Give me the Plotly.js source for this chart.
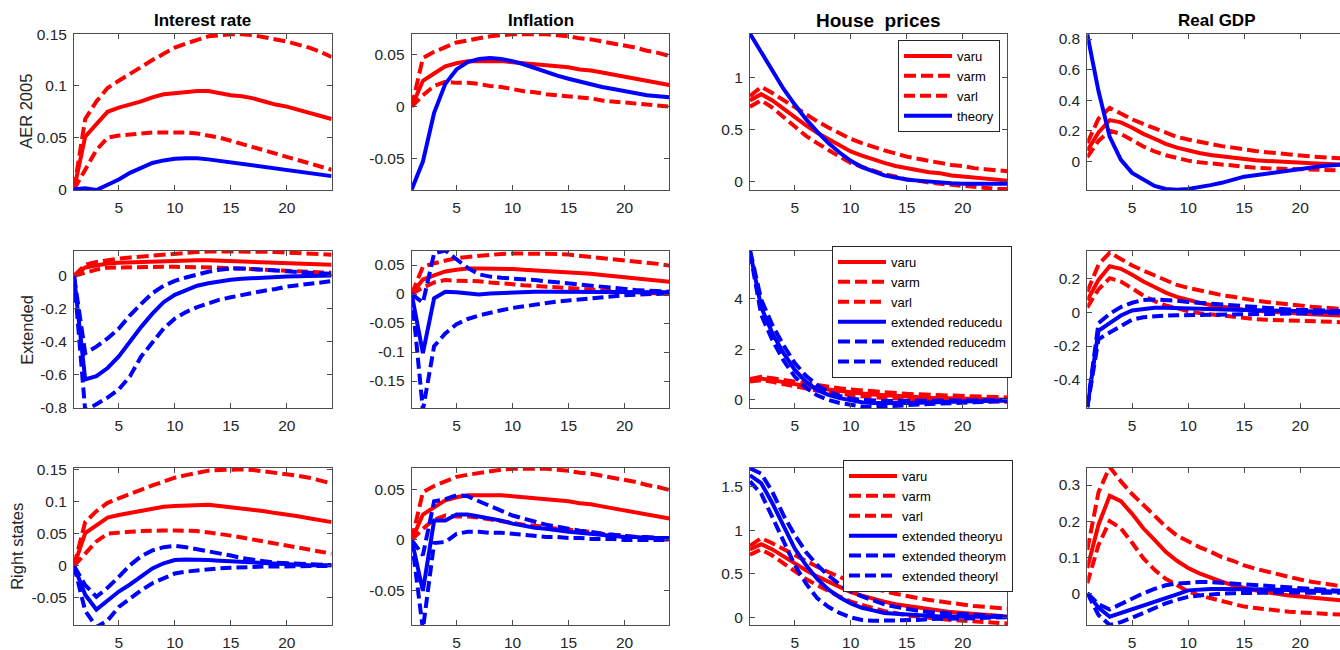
<!DOCTYPE html>
<html><head><meta charset="utf-8">
<script src="https://cdn.plot.ly/plotly-3.0.1.min.js"></script>
<style>html,body{margin:0;padding:0;overflow:hidden;background:#fff}</style>
</head><body><div id="chart" style="width:1346px;height:650px"></div>
<script>
// ---------- DATA ----------
const horizon = [1,2,3,4,5,6,7,8,9,10,11,12,13,14,15,16,17,18,19,20,21,22,23,24];
const columnTitles = ["Interest rate", "Inflation", "House\u00a0 prices", "Real GDP"];
const rowTitles = ["AER 2005", "Extended", "Right states"];
const xTickVals = [5, 10, 15, 20];
const xTickText = ["5", "10", "15", "20"];

// VAR bands (red), same in every row
const rateVarU = [0,0.051,0.063,0.075,0.079,0.082,0.085,0.089,0.092,0.093,0.094,0.095,0.095,0.093,0.091,0.090,0.088,0.085,0.082,0.080,0.077,0.074,0.071,0.068];
const rateVarM = [0,0.068,0.085,0.098,0.105,0.112,0.118,0.125,0.131,0.137,0.141,0.145,0.148,0.149,0.150,0.150,0.149,0.147,0.145,0.143,0.140,0.137,0.133,0.128];
const rateVarL = [0,0.020,0.038,0.050,0.052,0.053,0.054,0.055,0.055,0.055,0.055,0.054,0.052,0.050,0.047,0.044,0.041,0.037,0.034,0.031,0.028,0.025,0.022,0.019];
const inflVarU = [0,0.025,0.032,0.039,0.042,0.044,0.044,0.044,0.044,0.043,0.042,0.041,0.040,0.039,0.038,0.036,0.035,0.033,0.031,0.029,0.027,0.025,0.023,0.021];
const inflVarM = [0,0.047,0.053,0.058,0.062,0.064,0.066,0.068,0.069,0.070,0.070,0.070,0.070,0.069,0.068,0.066,0.065,0.063,0.061,0.059,0.057,0.054,0.052,0.049];
const inflVarL = [0,0.011,0.020,0.024,0.023,0.023,0.022,0.020,0.019,0.017,0.015,0.014,0.012,0.011,0.010,0.009,0.008,0.006,0.005,0.004,0.003,0.002,0.001,0.000];
const houseVarU = [0.78,0.84,0.78,0.70,0.61,0.54,0.47,0.41,0.35,0.29,0.25,0.21,0.18,0.15,0.13,0.11,0.09,0.08,0.06,0.05,0.04,0.03,0.02,0.01];
const houseVarM = [0.82,0.91,0.85,0.78,0.71,0.64,0.58,0.52,0.46,0.41,0.37,0.33,0.30,0.27,0.24,0.22,0.20,0.18,0.16,0.15,0.13,0.12,0.11,0.10];
const houseVarL = [0.72,0.78,0.71,0.62,0.52,0.44,0.37,0.30,0.24,0.18,0.14,0.10,0.07,0.05,0.02,0.01,-0.01,-0.02,-0.03,-0.04,-0.05,-0.06,-0.07,-0.07];
const gdpVarU = [0.07,0.19,0.27,0.255,0.22,0.18,0.148,0.115,0.09,0.07,0.055,0.042,0.032,0.022,0.014,0.008,0.003,-0.002,-0.006,-0.009,-0.012,-0.015,-0.018,-0.021];
const gdpVarM = [0.12,0.28,0.35,0.31,0.275,0.245,0.215,0.185,0.16,0.143,0.128,0.115,0.10,0.09,0.077,0.068,0.06,0.052,0.045,0.038,0.032,0.027,0.022,0.018];
const gdpVarL = [0.028,0.134,0.20,0.18,0.14,0.097,0.065,0.04,0.023,0.005,-0.006,-0.014,-0.021,-0.028,-0.037,-0.041,-0.045,-0.048,-0.051,-0.053,-0.055,-0.057,-0.059,-0.06];

// Row 1: theory (blue)
const rateTheory = [0,0.001,-0.0006,0.004,0.0095,0.016,0.021,0.0255,0.028,0.0295,0.030,0.030,0.029,0.0275,0.026,0.0245,0.023,0.0215,0.020,0.0186,0.017,0.0155,0.014,0.0128];
const inflTheory = [-0.080,-0.053,-0.006,0.022,0.036,0.043,0.046,0.047,0.046,0.044,0.041,0.037,0.034,0.030,0.027,0.024,0.021,0.019,0.017,0.015,0.013,0.011,0.010,0.009];
const houseTheory = [1.42,1.24,1.06,0.89,0.74,0.60,0.48,0.37,0.28,0.20,0.14,0.10,0.06,0.04,0.02,0.01,0.0,-0.01,-0.015,-0.02,-0.02,-0.02,-0.02,-0.02];
const gdpTheory = [0.83,0.46,0.16,0.01,-0.075,-0.12,-0.16,-0.18,-0.185,-0.18,-0.17,-0.155,-0.14,-0.12,-0.10,-0.09,-0.08,-0.07,-0.055,-0.046,-0.04,-0.03,-0.025,-0.02];

// Row 2: extended reduced (blue)
const rateRedU = [0,-0.63,-0.61,-0.56,-0.49,-0.40,-0.31,-0.23,-0.16,-0.115,-0.085,-0.06,-0.045,-0.033,-0.024,-0.018,-0.013,-0.009,-0.006,-0.004,-0.002,-0.001,0.0,0.002];
const rateRedM = [0,-0.47,-0.43,-0.38,-0.32,-0.24,-0.17,-0.105,-0.06,-0.03,-0.01,0.01,0.025,0.037,0.045,0.045,0.042,0.038,0.033,0.028,0.023,0.019,0.015,0.012];
const rateRedL = [0,-0.82,-0.78,-0.74,-0.69,-0.61,-0.49,-0.40,-0.32,-0.26,-0.22,-0.19,-0.165,-0.145,-0.13,-0.115,-0.10,-0.09,-0.08,-0.065,-0.057,-0.048,-0.04,-0.032];
const inflRedU = [0,-0.102,-0.0075,0.004,0.003,0.001,-0.001,0.001,0.002,0.003,0.004,0.004,0.004,0.004,0.004,0.004,0.004,0.004,0.004,0.003,0.003,0.003,0.003,0.003];
const inflRedM = [0,-0.015,0.070,0.075,0.060,0.045,0.034,0.030,0.028,0.027,0.026,0.024,0.022,0.020,0.018,0.016,0.014,0.012,0.010,0.008,0.007,0.006,0.005,0.004];
const inflRedL = [0,-0.20,-0.09,-0.068,-0.052,-0.043,-0.037,-0.032,-0.028,-0.024,-0.021,-0.018,-0.016,-0.013,-0.011,-0.009,-0.007,-0.005,-0.003,-0.002,-0.001,0.0,0.001,0.001];
const houseRedU = [5.85,3.65,2.62,1.84,1.18,0.72,0.39,0.20,0.07,-0.03,-0.09,-0.12,-0.13,-0.13,-0.12,-0.11,-0.09,-0.08,-0.07,-0.06,-0.05,-0.04,-0.03,-0.02];
const houseRedM = [5.9,3.95,2.95,2.15,1.45,0.95,0.58,0.33,0.16,0.05,0.0,-0.03,-0.04,-0.04,-0.04,-0.035,-0.03,-0.03,-0.025,-0.02,-0.02,-0.015,-0.01,-0.01];
const houseRedL = [5.8,3.35,2.35,1.55,0.92,0.48,0.18,0.0,-0.12,-0.21,-0.26,-0.27,-0.26,-0.24,-0.21,-0.18,-0.16,-0.14,-0.12,-0.10,-0.08,-0.06,-0.05,-0.04];
const gdpRedU = [-0.56,-0.11,-0.065,-0.02,0.01,0.02,0.025,0.025,0.024,0.022,0.02,0.018,0.016,0.014,0.012,0.01,0.008,0.007,0.006,0.005,0.004,0.003,0.002,0.001];
const gdpRedM = [-0.56,-0.065,-0.01,0.03,0.055,0.072,0.075,0.072,0.067,0.06,0.055,0.05,0.044,0.038,0.032,0.027,0.023,0.019,0.016,0.013,0.011,0.009,0.007,0.006];
const gdpRedL = [-0.56,-0.16,-0.12,-0.08,-0.045,-0.03,-0.023,-0.02,-0.019,-0.018,-0.017,-0.015,-0.014,-0.012,-0.011,-0.01,-0.009,-0.008,-0.007,-0.006,-0.005,-0.005,-0.004,-0.004];

// Row 3: extended theory (blue)
const rateThU = [0,-0.045,-0.068,-0.053,-0.040,-0.029,-0.017,-0.004,0.004,0.009,0.010,0.010,0.009,0.008,0.007,0.006,0.005,0.004,0.003,0.002,0.002,0.001,0.001,0.001];
const rateThM = [0,-0.03,-0.048,-0.034,-0.017,0.001,0.015,0.024,0.029,0.031,0.029,0.026,0.023,0.019,0.016,0.012,0.009,0.007,0.005,0.004,0.003,0.002,0.001,0.001];
const rateThL = [0,-0.07,-0.095,-0.085,-0.064,-0.05,-0.038,-0.027,-0.019,-0.012,-0.009,-0.007,-0.005,-0.004,-0.003,-0.002,-0.002,-0.001,-0.001,-0.001,-0.001,0,0,0];
const inflThU = [0,-0.05,0.019,0.019,0.025,0.025,0.023,0.021,0.019,0.016,0.014,0.012,0.011,0.009,0.008,0.007,0.006,0.005,0.004,0.003,0.003,0.002,0.002,0.001];
const inflThM = [0,-0.015,0.038,0.040,0.044,0.043,0.038,0.033,0.028,0.024,0.021,0.018,0.015,0.013,0.011,0.009,0.008,0.006,0.005,0.004,0.003,0.003,0.002,0.002];
const inflThL = [0,-0.088,-0.003,-0.002,0.006,0.008,0.008,0.007,0.007,0.006,0.005,0.004,0.003,0.003,0.002,0.002,0.001,0.001,0.001,0,0,0,0,0];
const houseThU = [1.63,1.54,1.31,1.04,0.79,0.60,0.44,0.32,0.23,0.16,0.11,0.08,0.05,0.04,0.03,0.02,0.015,0.01,0.01,0.01,0.008,0.007,0.006,0.005];
const houseThM = [1.71,1.65,1.44,1.17,0.945,0.75,0.60,0.48,0.38,0.30,0.24,0.19,0.15,0.12,0.095,0.075,0.06,0.05,0.04,0.03,0.025,0.02,0.015,0.01];
const houseThL = [1.56,1.42,1.15,0.87,0.60,0.39,0.22,0.12,0.05,0.0,-0.03,-0.04,-0.04,-0.04,-0.03,-0.03,-0.02,-0.02,-0.015,-0.01,-0.01,-0.005,0,0];
const gdpThU = [0,-0.04,-0.065,-0.055,-0.045,-0.035,-0.025,-0.013,-0.003,0.008,0.011,0.012,0.012,0.012,0.012,0.011,0.011,0.010,0.009,0.008,0.007,0.006,0.005,0.004];
const gdpThM = [0,-0.03,-0.045,-0.03,-0.015,0.0,0.012,0.022,0.027,0.03,0.031,0.031,0.029,0.027,0.024,0.022,0.02,0.017,0.015,0.013,0.011,0.009,0.008,0.006];
const gdpThL = [0,-0.06,-0.088,-0.08,-0.068,-0.054,-0.04,-0.028,-0.018,-0.01,-0.006,-0.003,-0.001,0.0,0.001,0.001,0.001,0.002,0.002,0.002,0.002,0.002,0.001,0.001];

// Y tick labels per panel (row-major)
const yTickVals = [
  [0,0.05,0.1,0.15], [-0.05,0,0.05], [0,0.5,1], [0,0.2,0.4,0.6,0.8],
  [-0.8,-0.6,-0.4,-0.2,0], [-0.15,-0.1,-0.05,0,0.05], [0,2,4], [-0.4,-0.2,0,0.2],
  [-0.05,0,0.05,0.1,0.15], [-0.05,0,0.05], [0,0.5,1,1.5], [0,0.1,0.2,0.3]
];
const yTickText = [
  ["0","0.05","0.1","0.15"], ["-0.05","0","0.05"], ["0","0.5","1"], ["0","0.2","0.4","0.6","0.8"],
  ["-0.8","-0.6","-0.4","-0.2","0"], ["-0.15","-0.1","-0.05","0","0.05"], ["0","2","4"], ["-0.4","-0.2","0","0.2"],
  ["-0.05","0","0.05","0.1","0.15"], ["-0.05","0","0.05"], ["0","0.5","1","1.5"], ["0","0.1","0.2","0.3"]
];

// ---------- LAYOUT GEOMETRY ----------
const W = 1346, H = 650;
const colPx = [[74,331.6],[411.7,669.3],[750,1007.4],[1087.3,1345]];
const rowPx = [[33.7,190],[250.7,408.3],[467.7,625]];
const rowTitleX = [26, 26.3, 17.5];
const yRanges = [
  [-0.0006,0.1505], [-0.0805,0.0705], [-0.08,1.42], [-0.187,0.835],
  [-0.805,0.153], [-0.197,0.0747], [-0.33,5.875], [-0.567,0.362],
  [-0.092,0.1526], [-0.0836,0.071], [-0.088,1.718], [-0.088,0.348]
];

const RED = '#ff0000', BLUE = '#0000ff';
const LW = 4;
const DASH_M = '12px,5px';
const DASH_L = '11px,5px';
const FONT = 'Liberation Sans, Arial, Helvetica, sans-serif';

const varSets = [
  [rateVarU, rateVarM, rateVarL], [inflVarU, inflVarM, inflVarL],
  [houseVarU, houseVarM, houseVarL], [gdpVarU, gdpVarM, gdpVarL]
];
const blueSets = [
  [[rateTheory],[inflTheory],[houseTheory],[gdpTheory]],
  [[rateRedU,rateRedM,rateRedL],[inflRedU,inflRedM,inflRedL],[houseRedU,houseRedM,houseRedL],[gdpRedU,gdpRedM,gdpRedL]],
  [[rateThU,rateThM,rateThL],[inflThU,inflThM,inflThL],[houseThU,houseThM,houseThL],[gdpThU,gdpThM,gdpThL]]
];
const varNames = ["varu","varm","varl"];
const blueNames = [["theory"],
  ["extended reducedu","extended reducedm","extended reducedl"],
  ["extended theoryu","extended theorym","extended theoryl"]];
const legendIds = ['legend','legend2','legend3'];
const dashes = ['solid', DASH_M, DASH_L];

const traces = [];
const layout = {
  width: W, height: H,
  margin: {l:0, r:0, t:0, b:0},
  paper_bgcolor: '#fff', plot_bgcolor: '#fff',
  font: {family: FONT, color: '#262626'},
  annotations: [],
  showlegend: true
};

for (let r = 0; r < 3; r++) {
  for (let c = 0; c < 4; c++) {
    const i = r*4 + c;
    const sfx = i === 0 ? '' : String(i+1);
    const xa = 'x' + sfx, ya = 'y' + sfx;
    const inLegend = (c === 2);
    const leg = legendIds[r];
    varSets[c].forEach((arr, k) => {
      traces.push({x: horizon, y: arr, xaxis: xa, yaxis: ya, mode: 'lines',
        name: varNames[k], line: {color: RED, width: LW, dash: dashes[k]},
        showlegend: inLegend, legend: leg, hoverinfo: 'skip'});
    });
    blueSets[r][c].forEach((arr, k) => {
      traces.push({x: horizon, y: arr, xaxis: xa, yaxis: ya, mode: 'lines',
        name: blueNames[r][k], line: {color: BLUE, width: LW, dash: dashes[k]},
        showlegend: inLegend, legend: leg, hoverinfo: 'skip'});
    });
    const common = {
      showline: true, linecolor: '#4d4d4d', linewidth: 1, mirror: 'ticks',
      ticks: 'inside', ticklen: 5, tickcolor: '#4d4d4d', tickwidth: 1,
      showgrid: false, zeroline: false, fixedrange: true,
      tickfont: {family: FONT, size: 15.5, color: '#262626'}
    };
    layout['xaxis' + sfx] = Object.assign({}, common, {
      domain: [colPx[c][0]/W, colPx[c][1]/W], anchor: ya,
      range: [1, 24], tickmode: 'array', tickvals: xTickVals, ticktext: xTickText,
      ticklabelstandoff: 3
    });
    layout['yaxis' + sfx] = Object.assign({}, common, {
      domain: [1 - rowPx[r][1]/H, 1 - rowPx[r][0]/H], anchor: xa,
      range: yRanges[i], tickmode: 'array', tickvals: yTickVals[i], ticktext: yTickText[i],
      ticklabelstandoff: 3
    });
  }
  // Row label
  layout.annotations.push({
    text: rowTitles[r], xref: 'paper', yref: 'paper',
    x: rowTitleX[r] / W, y: 1 - (rowPx[r][0] + rowPx[r][1]) / 2 / H,
    xanchor: 'center', yanchor: 'middle', textangle: -90, showarrow: false,
    font: {family: FONT, size: 16.5, color: '#262626'}
  });
}

// Column titles
columnTitles.forEach((t, c) => {
  layout.annotations.push({
    text: '<b>' + t + '</b>', xref: 'paper', yref: 'paper',
    x: (colPx[c][0] + colPx[c][1]) / 2 / W, y: 1 - 20/H,
    xanchor: 'center', yanchor: 'middle', showarrow: false,
    font: {family: FONT, size: c === 2 ? 19 : 17, color: '#000'}
  });
});

// Legends
const legendBase = {
  bgcolor: '#fff', bordercolor: '#262626', borderwidth: 1,
  font: {family: FONT, size: 13, color: '#000'},
  xanchor: 'left', yanchor: 'top', itemwidth: 48, traceorder: 'normal',
  tracegroupgap: 0, itemclick: false, itemdoubleclick: false
};
layout.legend = Object.assign({}, legendBase, {x: 898/W, y: 1 - 40/H});
layout.legend2 = Object.assign({}, legendBase, {x: 832/W, y: 1 - 246/H});
layout.legend3 = Object.assign({}, legendBase, {x: 843/W, y: 1 - 460/H});

Plotly.newPlot('chart', traces, layout, {staticPlot: true, displayModeBar: false});
</script></body></html>
